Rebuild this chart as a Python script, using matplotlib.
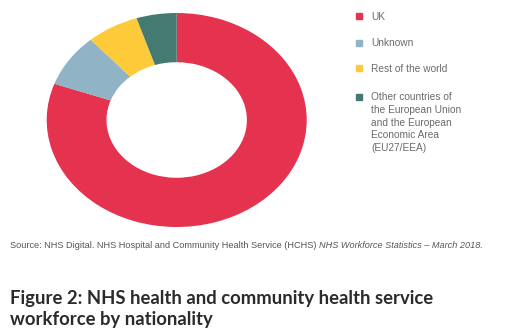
import matplotlib.pyplot as plt
from matplotlib.patches import Rectangle

# Share of NHS HCHS workforce by nationality (%), March 2018
labels = ['UK', 'Unknown', 'Rest of the world',
          'Other countries of\nthe European Union\nand the European\nEconomic Area\n(EU27/EEA)']
shares = [80.5, 8.0, 6.5, 5.0]
colors = ['#e5334f', '#90b4c6', '#fdcb3a', '#447a71']

W, H = 532, 330
fig = plt.figure(figsize=(W / 100, H / 100), dpi=100)

# donut is drawn as a squashed ellipse, so the axes aspect is left free
ax = fig.add_axes([46.7 / W, (H - 227) / H, 260 / W, 214 / H])
ax.pie(shares, colors=colors, startangle=90, counterclock=False,
       wedgeprops=dict(width=0.46, linewidth=0))
ax.set_aspect('auto')
ax.set_xlim(-1, 1)
ax.set_ylim(-1, 1)
ax.axis('off')

# legend drawn by hand to get the uneven spacing of the original
legend_y = [16, 43, 68, 97]
for lab, col, y in zip(labels, colors, legend_y):
    fig.patches.append(Rectangle((356 / W, (H - y - 3) / H), 6 / W, 6 / H,
                                 transform=fig.transFigure, color=col))
    fig.text(371 / W, (H - y + 4.5) / H, lab, fontsize=7.3, color='#6b6b6b',
             family='Liberation Sans', va='top', linespacing=1.32)

# source line, plain part then italic part
src = fig.text(10 / W, (H - 246) / H,
               'Source: NHS Digital. NHS Hospital and Community Health Service (HCHS) ',
               fontsize=6.55, color='#555555', family='Liberation Sans', va='center')
fig.canvas.draw()
bb = src.get_window_extent()
fig.text(bb.x1 / W, (H - 246) / H, 'NHS Workforce Statistics \u2013 March 2018.',
         fontsize=6.55, color='#555555', family='Liberation Sans', style='italic',
         va='center')

fig.text(10 / W, (H - 309) / H,
         'Figure 2: NHS health and community health service\nworkforce by nationality',
         fontsize=13.3, fontweight='bold', color='#2b2b2b', family='Lato',
         va='center', linespacing=1.25)

fig.savefig('out.png', dpi=100)
